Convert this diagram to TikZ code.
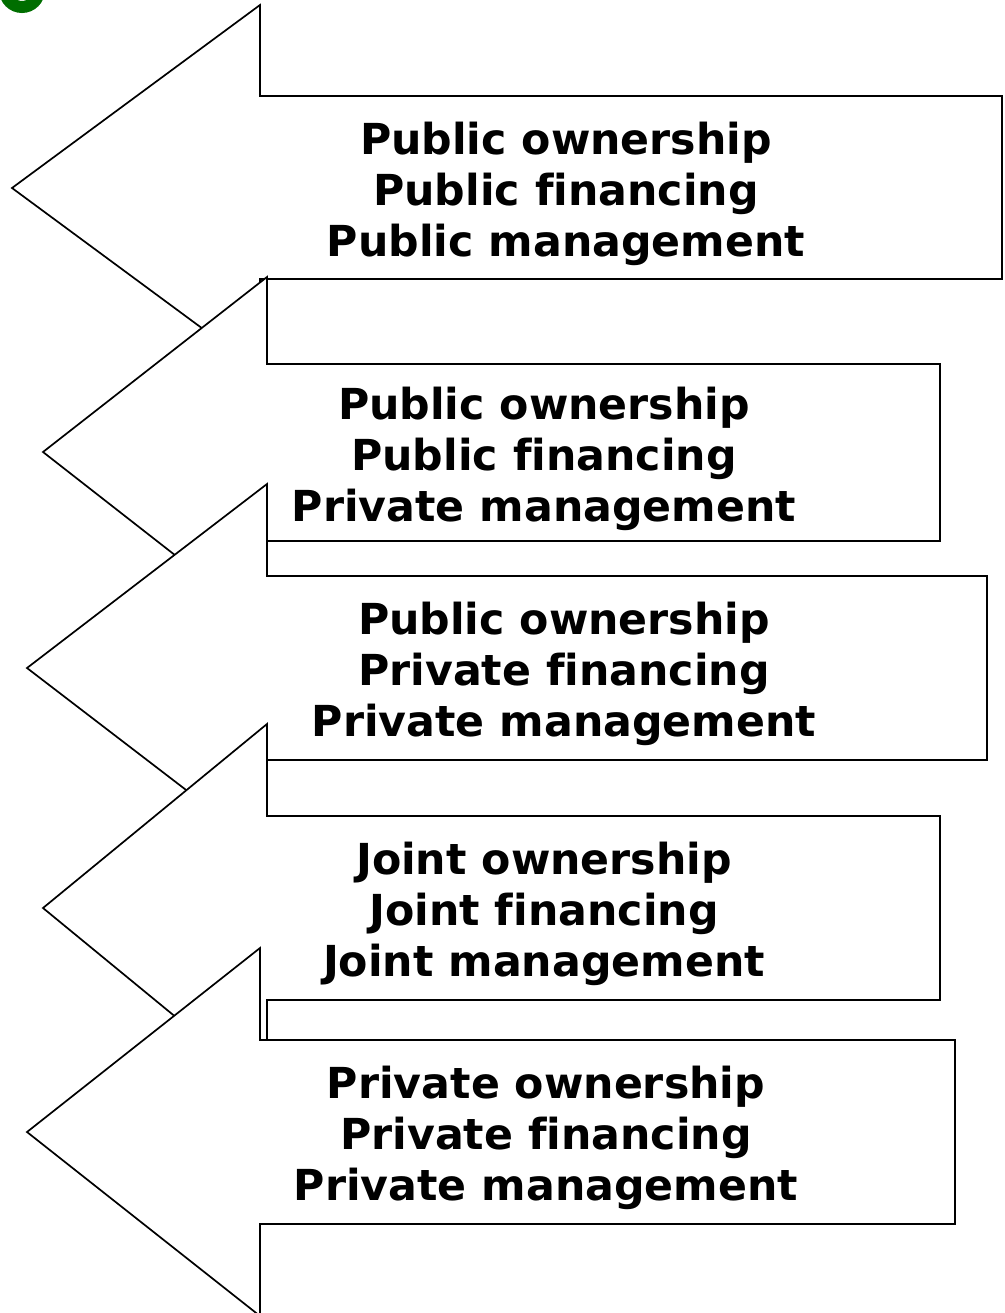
\documentclass[tikz,border=0pt]{standalone}
\usepackage{fontspec}
\setmainfont{DejaVu Sans}[Ligatures=NoCommon]
\definecolor{titlegreen}{RGB}{0,110,0}
\begin{document}
\begin{tikzpicture}[x=1pt,y=-1pt,
  arrowshape/.style={draw=black, fill=white, line width=1.7pt, line join=miter},
  txt/.style={font=\fontsize{42.7}{51}\selectfont\bfseries, align=center, inner sep=0pt}]
\useasboundingbox (0,0) rectangle (1004,1313);
% fragment of green title letter
\draw[titlegreen, line width=12pt] (22,-10) circle[radius=17];
% arrow 1
\draw[arrowshape] (12,188) -- (260,5) -- (260,96) -- (1002,96) -- (1002,279) -- (260,279) -- (260,371) -- cycle;
\node[txt] (t1) at (566,194) {Public ownership\\Public financing\\Public management};
% arrow 2
\draw[arrowshape] (43,452) -- (267,277) -- (267,364) -- (940,364) -- (940,541) -- (267,541) -- (267,627) -- cycle;
\node[txt] (t2) at (544,459) {Public ownership\\Public financing\\Private management};
% arrow 3
\draw[arrowshape] (27,668) -- (267,484) -- (267,576) -- (987,576) -- (987,760) -- (267,760) -- (267,852) -- cycle;
\node[txt] (t3) at (564,674) {Public ownership\\Private financing\\Private management};
% arrow 4
\draw[arrowshape] (43,908) -- (267,724) -- (267,816) -- (940,816) -- (940,1000) -- (267,1000) -- (267,1092) -- cycle;
\node[txt] (t4) at (544,914) {Joint ownership\\Joint financing\\Joint management};
% arrow 5
\draw[arrowshape] (27,1132) -- (260,948) -- (260,1040) -- (955,1040) -- (955,1224) -- (260,1224) -- (260,1316) -- cycle;
\node[txt] (t5) at (546,1138) {Private ownership\\Private financing\\Private management};
\end{tikzpicture}
\end{document}
